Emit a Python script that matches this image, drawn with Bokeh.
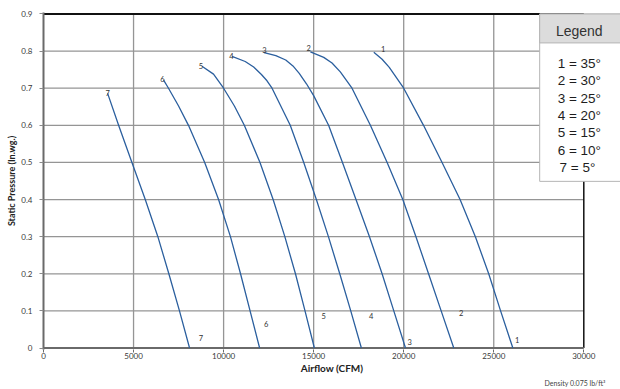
from bokeh.plotting import figure
from bokeh.models import Range1d, FixedTicker, BoxAnnotation, Label, Title
from bokeh.core.properties import value
from bokeh.embed import file_html
from bokeh.resources import INLINE

# ---------------- data ----------------
curve_names = ["1", "2", "3", "4", "5", "6", "7"]
legend_entries = ["1 = 35\u00b0", "2 = 30\u00b0", "3 = 25\u00b0", "4 = 20\u00b0",
                  "5 = 15\u00b0", "6 = 10\u00b0", "7 =  5\u00b0"]

c1_cfm = [18340, 18800, 19200, 20000, 21100, 22130, 23130, 23980, 24720, 25380, 26060]
c1_sp = [0.797, 0.778, 0.756, 0.70, 0.60, 0.50, 0.40, 0.30, 0.20, 0.10, 0.0]
c2_cfm = [14820, 15560, 16020, 16480, 17130, 18150, 19080, 19950, 20680, 21380, 22080, 22780]
c2_sp = [0.798, 0.783, 0.768, 0.744, 0.70, 0.60, 0.50, 0.40, 0.30, 0.20, 0.10, 0.0]
c3_cfm = [12250, 12900, 13450, 13850, 14200, 14600, 15000, 15830, 16600, 17350, 18100,
          18800, 19450, 20100]
c3_sp = [0.796, 0.788, 0.776, 0.760, 0.740, 0.712, 0.680, 0.60, 0.50, 0.40, 0.30,
         0.20, 0.10, 0.0]
c4_cfm = [10470, 11200, 11670, 12100, 12410, 12690, 13700, 14450, 15150, 15820, 16450,
          17060, 17650]
c4_sp = [0.786, 0.772, 0.757, 0.737, 0.72, 0.70, 0.60, 0.50, 0.40, 0.30, 0.20, 0.10, 0.0]
c5_cfm = [8800, 9440, 10000, 10600, 11150, 12020, 12750, 13400, 13990, 14520, 15040]
c5_sp = [0.759, 0.738, 0.70, 0.652, 0.60, 0.50, 0.40, 0.30, 0.20, 0.10, 0.0]
c6_cfm = [6670, 6940, 7500, 8050, 8950, 9720, 10380, 10940, 11470, 12000]
c6_sp = [0.722, 0.70, 0.652, 0.60, 0.50, 0.40, 0.30, 0.20, 0.10, 0.0]
c7_cfm = [3560, 4170, 4910, 5650, 6350, 6960, 7550, 8110]
c7_sp = [0.686, 0.60, 0.50, 0.40, 0.30, 0.20, 0.10, 0.0]

# curve number labels (near the top start and near the bottom of each curve)
top_lbl_cfm = [18860, 14720, 12260, 10430, 8740, 6610, 3560]
top_lbl_sp = [0.806, 0.809, 0.803, 0.787, 0.761, 0.725, 0.687]
bot_lbl_cfm = [26300, 23190, 20330, 18200, 15560, 12370, 8740]
bot_lbl_sp = [0.021, 0.095, 0.015, 0.086, 0.086, 0.066, 0.026]

x_ticks = [0, 5000, 10000, 15000, 20000, 25000, 30000]
x_tick_labels = ["0", "5000", "10000", "15000", "20000", "25000", "30000"]
y_ticks = [0, 0.1, 0.2, 0.3, 0.4, 0.5, 0.6, 0.7, 0.8, 0.9]
y_tick_labels = ["0", "0.1", "0.2", "0.3", "0.4", "0.5", "0.6", "0.7", "0.8", "0.9"]

# ---------------- layout ----------------
W, H = 620, 389
ML, MR, MT, MB = 43, 0, 12, 40
frame_w = W - ML - MR
x_end = x_ticks[-1] * frame_w / 540.3

CURVE = "#2b5f9e"
GRID = "#959595"
TXT = "#3a3a3a"
FONT = "Lato"

p = figure(width=W, height=H, output_backend="svg", toolbar_location=None,
           x_range=Range1d(0, x_end), y_range=Range1d(-0.004, 0.904),
           min_border_left=ML, min_border_right=MR, min_border_top=MT,
           min_border_bottom=MB)
p.outline_line_color = None
p.background_fill_color = "white"
p.border_fill_color = "white"
p.xgrid.visible = False
p.ygrid.visible = False

xmax = x_ticks[-1]
ymax = y_ticks[-1]

# grid lines limited to the chart box
p.segment(x0=x_ticks[1:-1], y0=[0] * (len(x_ticks) - 2), x1=x_ticks[1:-1],
          y1=[ymax] * (len(x_ticks) - 2), line_color=GRID, line_width=1.3)
p.segment(x0=[0] * (len(y_ticks) - 2), y0=y_ticks[1:-1], x1=[xmax] * (len(y_ticks) - 2),
          y1=y_ticks[1:-1], line_color=GRID, line_width=1.3)
# box borders
p.segment(x0=[0], y0=[ymax], x1=[xmax], y1=[ymax], line_color="#111111", line_width=2)
p.segment(x0=[xmax], y0=[0], x1=[xmax], y1=[ymax], line_color="#111111", line_width=1.5)
p.segment(x0=[0], y0=[0], x1=[xmax], y1=[0], line_color="#6a6a6a", line_width=2)

curves = [(c1_cfm, c1_sp), (c2_cfm, c2_sp), (c3_cfm, c3_sp), (c4_cfm, c4_sp),
          (c5_cfm, c5_sp), (c6_cfm, c6_sp), (c7_cfm, c7_sp)]
for cx, cy in curves:
    p.line(cx, cy, line_color=CURVE, line_width=1.3, line_join="round")

p.text(x=top_lbl_cfm, y=top_lbl_sp, text=curve_names, text_align="center",
       text_baseline="middle", text_font=value(FONT), text_font_size="7.5px",
       text_color="#333333")
p.text(x=bot_lbl_cfm, y=bot_lbl_sp, text=curve_names, text_align="center",
       text_baseline="middle", text_font=value(FONT), text_font_size="7.5px",
       text_color="#333333")

# axes
xa = p.xaxis[0]
xa.ticker = FixedTicker(ticks=x_ticks)
xa.major_label_overrides = dict(zip(x_ticks, x_tick_labels))
xa.axis_line_color = None
xa.major_tick_line_color = "#6a6a6a"
xa.major_tick_out = 3
xa.major_tick_in = 0
xa.minor_tick_line_color = None
xa.major_label_standoff = 0
xa.major_label_text_font = FONT
xa.major_label_text_font_size = "8px"
xa.major_label_text_color = TXT
xa.axis_label = "Airflow (CFM)"
xa.axis_label_text_font = FONT
xa.axis_label_text_font_style = "bold"
xa.axis_label_text_font_size = "10px"
xa.axis_label_text_color = "#222222"
xa.axis_label_standoff = 0

ya = p.yaxis[0]
ya.ticker = FixedTicker(ticks=y_ticks)
ya.major_label_overrides = dict(zip(y_ticks, y_tick_labels))
ya.axis_line_color = "#6a6a6a"
ya.axis_line_width = 2
ya.major_tick_line_color = "#8a8a8a"
ya.major_tick_out = 4
ya.major_tick_in = 0
ya.minor_tick_line_color = None
ya.major_label_standoff = 7
ya.major_label_text_font = FONT
ya.major_label_text_font_size = "8px"
ya.major_label_text_color = TXT
ya.axis_label = "Static Pressure (In.wg.)"
ya.axis_label_text_font = FONT
ya.axis_label_text_font_style = "bold"
ya.axis_label_text_font_size = "9px"
ya.axis_label_text_color = "#222222"
ya.axis_label_standoff = 1

# legend panel (top right)
leg_left = 27550
p.add_layout(BoxAnnotation(left=leg_left, bottom=0.449, top=ymax, fill_color="white",
                           fill_alpha=1, line_color="#b5b5b5", line_width=1, line_alpha=1))
p.add_layout(BoxAnnotation(left=leg_left, bottom=0.822, top=ymax, fill_color="#dcdcdc",
                           fill_alpha=1, line_color="#b5b5b5", line_width=1, line_alpha=1))
leg_cx = 29750
p.add_layout(Label(x=leg_cx, y=0.855, text="Legend", text_align="center",
                   text_baseline="middle", text_font="Liberation Sans",
                   text_font_size="14px", text_color="#333333"))
leg_y0 = 0.766
leg_dy = 0.0465
for i, t in enumerate(legend_entries):
    p.add_layout(Label(x=leg_cx, y=leg_y0 - i * leg_dy, text=t, text_align="center",
                       text_baseline="middle", text_font="Liberation Sans",
                       text_font_size="13.5px", text_color="#1e1e1e"))

p.add_layout(Title(text="Density 0.075 lb/ft\u00b3", align="right", offset=15,
                   text_font=FONT, text_font_size="7px", text_font_style="normal",
                   text_color="#444444", standoff=0), "below")

open("out.html", "w").write(file_html(p, INLINE))
